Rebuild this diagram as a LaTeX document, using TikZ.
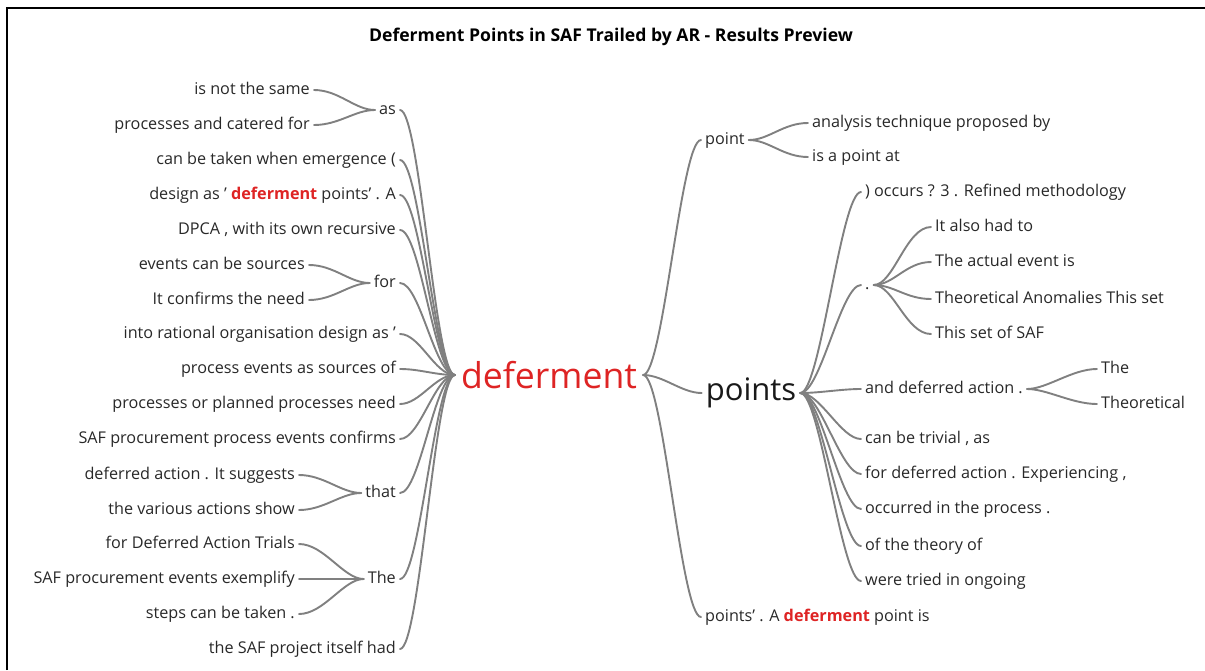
\documentclass[tikz,border=0pt]{standalone}
\usepackage{fontspec}
\setmainfont{Open Sans}
\usepackage{tikz}
\usetikzlibrary{positioning}
\usepackage{xcolor}
\definecolor{hotred}{RGB}{222,36,36}
\definecolor{linkgray}{RGB}{128,128,128}
\definecolor{leaftext}{RGB}{40,40,40}

\newcommand{\hot}[1]{\textcolor{hotred}{\textbf{#1}}}

\begin{document}
\begin{tikzpicture}[x=1pt, y=-1pt,
  leaf/.style={font=\fontsize{16.2}{18}\selectfont, text=leaftext, inner sep=4pt, text height=11.5pt, text depth=3pt},
  lleaf/.style={leaf, anchor=east},
  rleaf/.style={leaf, anchor=west},
  branch/.style={draw=linkgray, line width=1.9pt, line cap=round}]
  \useasboundingbox (0,0) rectangle (1205,670);
  \draw[line width=2pt] (7,670) -- (7,8) -- (1205,8);
  \node[font=\bfseries\fontsize{17.6}{20}\selectfont] (title) at (611,37) {Deferment Points in SAF Trailed by AR - Results Preview};

  % the two big words
  \node[text=hotred, font=\fontsize{35.6}{38}\selectfont, inner sep=6pt] (root) at (549,375) {deferment};
  \node[font=\fontsize{31}{33}\selectfont, text=black!90, inner sep=4pt] (points) at (751,393) {points};

  % left side
  \node[lleaf] (as) at (400,110) {as};
  \node[lleaf] (as1) at (314,90) {is not the same};
  \node[lleaf] (as2) at (314,125) {processes and catered for};
  \node[lleaf] (l2) at (400,160) {can be taken when emergence (};
  \node[lleaf] (l3) at (400,195) {design as ' \hot{deferment} points' . A};
  \node[lleaf] (l4) at (400,230) {DPCA , with its own recursive};
  \node[lleaf] (for) at (400,283) {for};
  \node[lleaf] (for1) at (309,265) {events can be sources};
  \node[lleaf] (for2) at (309,300) {It confirms the need};
  \node[lleaf] (l6) at (400,334) {into rational organisation design as '};
  \node[lleaf] (l7) at (400,369) {process events as sources of};
  \node[lleaf] (l8) at (400,404) {processes or planned processes need};
  \node[lleaf] (l9) at (400,439) {SAF procurement process events confirms};
  \node[lleaf] (that) at (400,493) {that};
  \node[lleaf] (that1) at (299,475) {deferred action . It suggests};
  \node[lleaf] (that2) at (299,510) {the various actions show};
  \node[lleaf] (the) at (400,579) {The};
  \node[lleaf] (the1) at (299,544) {for Deferred Action Trials};
  \node[lleaf] (the2) at (299,579) {SAF procurement events exemplify};
  \node[lleaf] (the3) at (299,614) {steps can be taken .};
  \node[lleaf] (l12) at (400,649) {the SAF project itself had};

  % right side
  \node[rleaf] (point) at (701,140) {point};
  \node[rleaf] (point1) at (808,123) {analysis technique proposed by};
  \node[rleaf] (point2) at (808,157) {is a point at};
  \node[rleaf] (r1) at (861,192) {) occurs ? 3 . Refined methodology};
  \node[rleaf] (dot) at (861,285) {.};
  \node[rleaf] (dot1) at (931,227) {It also had to};
  \node[rleaf] (dot2) at (931,262) {The actual event is};
  \node[rleaf] (dot3) at (931,299) {Theoretical Anomalies This set};
  \node[rleaf] (dot4) at (931,334) {This set of SAF};
  \node[rleaf] (act) at (861,389) {and deferred action .};
  \node[rleaf] (act1) at (1097,369) {The};
  \node[rleaf] (act2) at (1097,404) {Theoretical};
  \node[rleaf] (r4) at (861,439) {can be trivial , as};
  \node[rleaf] (r5) at (861,474) {for deferred action . Experiencing ,};
  \node[rleaf] (r6) at (861,509) {occurred in the process .};
  \node[rleaf] (r7) at (861,546) {of the theory of};
  \node[rleaf] (r8) at (861,581) {were tried in ongoing};
  \node[rleaf] (tail) at (701,617) {points' . A \hot{deferment} point is};

  % branches into the left hub
  \foreach \n in {as,l2,l3,l4,for,l6,l7,l8,l9,that,the,l12}
    \draw[branch] (\n.east) .. controls +(20,0) and +(-20,0) .. (root.west);
  \foreach \n/\m in {as1/as,as2/as,for1/for,for2/for,that1/that,that2/that,the1/the,the2/the,the3/the}
    \draw[branch] (\n.east) .. controls +(25,0) and +(-20,0) .. (\m.west);

  % branches out of the right hub
  \foreach \n in {point,points,tail}
    \draw[branch] (root.east) .. controls +(20,0) and +(-20,0) .. (\n.west);
  \foreach \n in {r1,dot,act,r4,r5,r6,r7,r8}
    \draw[branch] (points.east) .. controls +(20,0) and +(-20,0) .. (\n.west);
  \foreach \n/\m in {point/point1,point/point2,dot/dot1,dot/dot2,dot/dot3,dot/dot4,act/act1,act/act2}
    \draw[branch] (\n.east) .. controls +(20,0) and +(-25,0) .. (\m.west);
\end{tikzpicture}
\end{document}
